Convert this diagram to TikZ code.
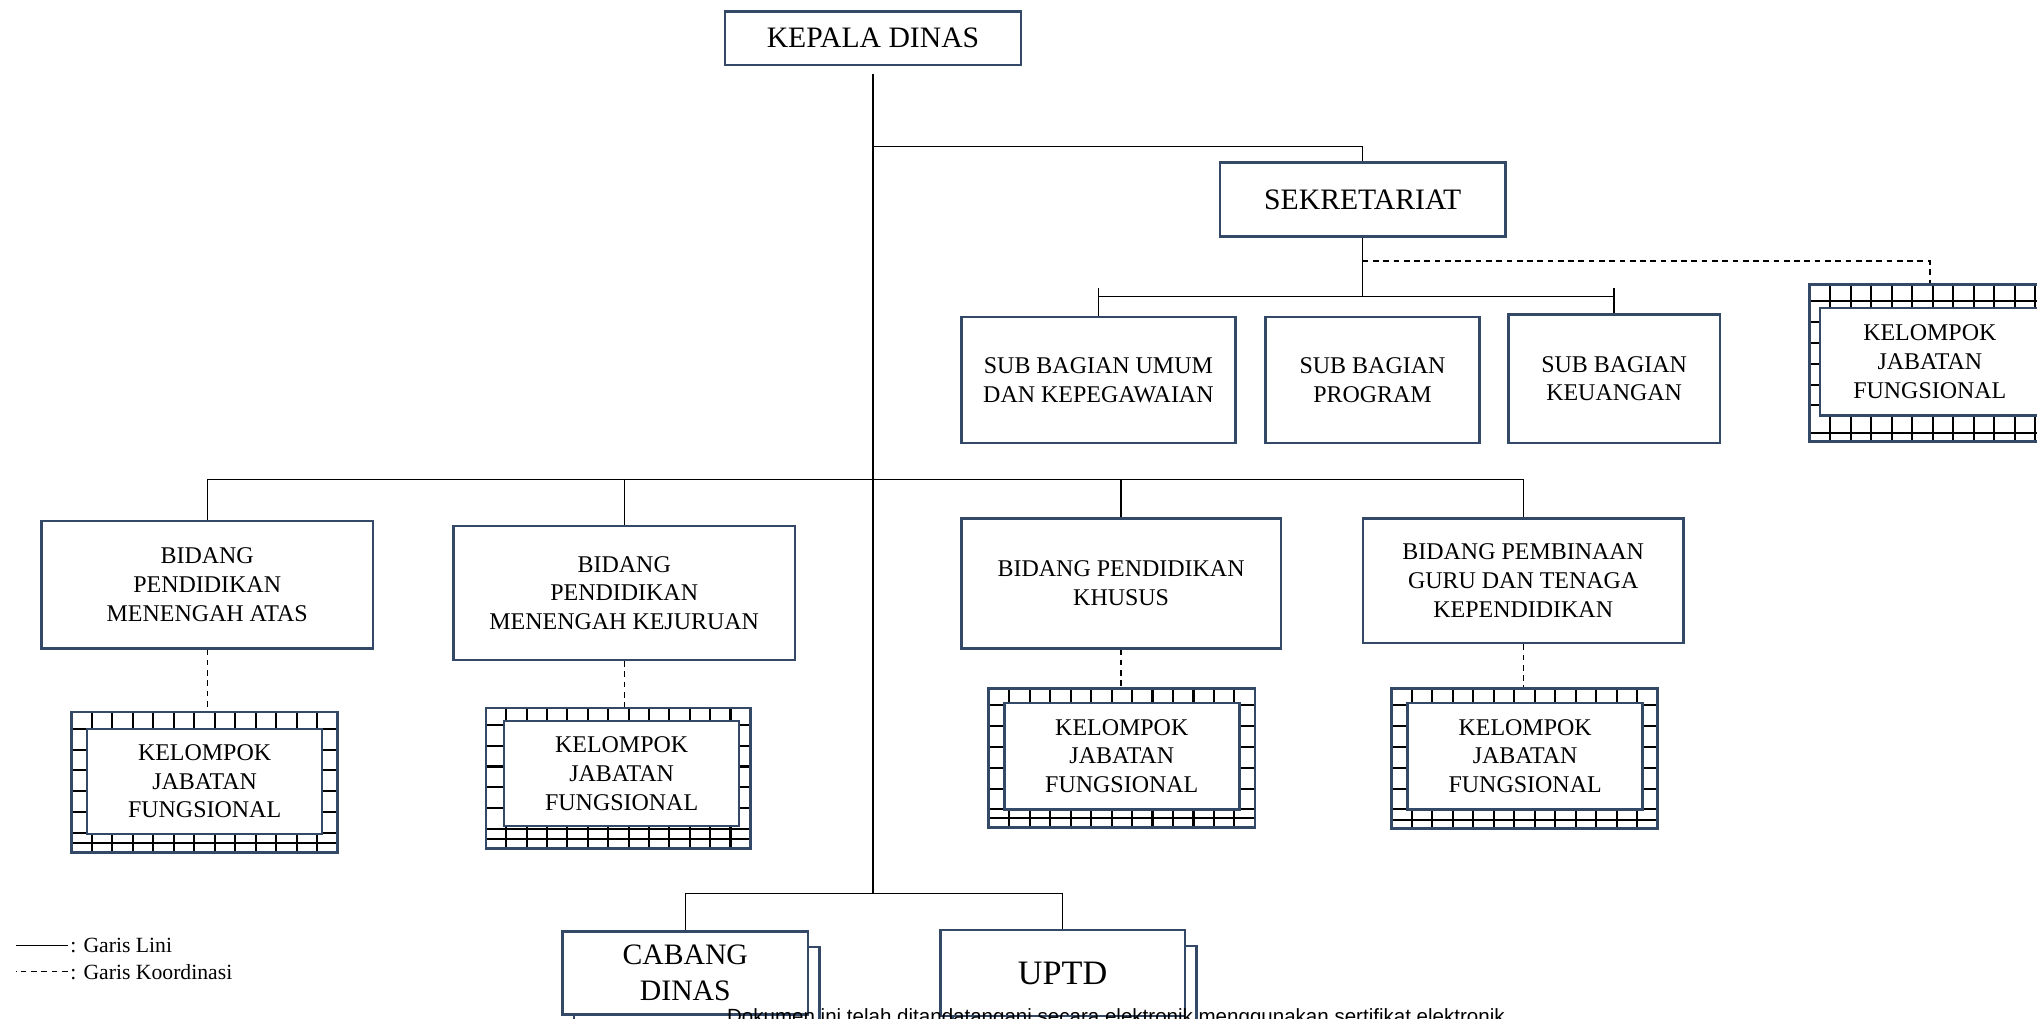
\documentclass[tikz,border=0pt]{standalone}
\usepackage{fontspec}
\setmainfont{Liberation Serif}
\newfontfamily\wmfont{Liberation Sans}
\usetikzlibrary{calc,shadows}
\definecolor{garisbiru}{RGB}{52,72,104}
\tikzset{
  kotak/.style={draw=garisbiru, line width=1.1pt, fill=white, align=center,
    font=\fontsize{10.5}{12.6}\selectfont},
  kepala/.style={kotak, font=\fontsize{13}{15.6}\selectfont},
  kisi/.style={black, line width=0.9pt},
  kjfluar/.style={draw=garisbiru, line width=1.2pt, fill=white,
    minimum width=4.1cm, minimum height=2.16cm,
    path picture={
      \foreach \i in {1,...,12}
        \draw[kisi] ($(path picture bounding box.north west)!\i/13!(path picture bounding box.north east)$) -- ++(0,-3cm);
      \foreach \j in {0,...,5}
        \draw[kisi] ([yshift=-0.26cm-\j*0.32cm]path picture bounding box.north west) -- ++(5cm,0);
      \draw[kisi] ([yshift=0.14cm]path picture bounding box.south west) -- ++(5cm,0);
    }},
  kjfdalam/.style={kotak, minimum width=3.62cm, minimum height=1.62cm},
  tumpuk/.style={kepala, copy shadow={shadow xshift=0.18cm, shadow yshift=-0.24cm,
    draw=garisbiru, line width=1.1pt, fill=white}},
  garis/.style={black, line width=0.6pt},
  koord/.style={garis, dash pattern=on 2.5pt off 2pt},
  legenda/.style={font=\fontsize{9.5}{11}\selectfont, inner sep=1pt},
}

\begin{document}
\begin{tikzpicture}[x=0.02cm, y=-0.02cm]
  \useasboundingbox (0,0) rectangle (1568,784);
  \node[kepala, minimum width=4.56cm, minimum height=0.82cm] (kd) at (672,29.5) {KEPALA DINAS};
  \node[kepala, minimum width=4.4cm, minimum height=1.14cm] (sek) at (1049,153.5) {SEKRETARIAT};
  \node[kotak, minimum width=4.22cm, minimum height=1.94cm] (sbu) at (845.5,292.5) {SUB BAGIAN UMUM\\DAN KEPEGAWAIAN};
  \node[kotak, minimum width=3.3cm, minimum height=1.94cm] (sbp) at (1056.5,292.5) {SUB BAGIAN\\PROGRAM};
  \node[kotak, minimum width=3.26cm, minimum height=1.98cm] (sbk) at (1242.5,291.5) {SUB BAGIAN\\KEUANGAN};
  \node[kjfluar, minimum height=2.42cm] (kjf5) at (1495.5,279.5) {};
  \node[kjfdalam, minimum width=3.38cm, minimum height=1.66cm] (kjf5t) at (1485.5,278.5) {KELOMPOK\\JABATAN\\FUNGSIONAL};

  \node[kotak, minimum width=5.1cm, minimum height=1.96cm] (bpma) at (159.5,450) {BIDANG\\PENDIDIKAN\\MENENGAH ATAS};
  \node[kotak, minimum width=5.26cm, minimum height=2.06cm] (bpmk) at (480.5,456.5) {BIDANG\\PENDIDIKAN\\MENENGAH KEJURUAN};
  \node[kotak, minimum width=4.92cm, minimum height=2cm] (bpk) at (863,449) {BIDANG PENDIDIKAN\\KHUSUS};
  \node[kotak, minimum width=4.94cm, minimum height=1.92cm] (bpgtk) at (1172.5,447) {BIDANG PEMBINAAN\\GURU DAN TENAGA\\KEPENDIDIKAN};

  \node[kjfluar] (kjf1) at (157.5,602) {};
  \node[kjfdalam] (kjf1t) at (157.5,601.5) {KELOMPOK\\JABATAN\\FUNGSIONAL};
  \node[kjfluar, minimum width=4.08cm] (kjf2) at (476,599) {};
  \node[kjfdalam] (kjf2t) at (478.5,595.5) {KELOMPOK\\JABATAN\\FUNGSIONAL};
  \node[kjfluar, minimum height=2.14cm] (kjf3) at (863.5,583.5) {};
  \node[kjfdalam, minimum height=1.64cm] (kjf3t) at (863.5,582) {KELOMPOK\\JABATAN\\FUNGSIONAL};
  \node[kjfluar] (kjf4) at (1173.5,584) {};
  \node[kjfdalam, minimum height=1.64cm] (kjf4t) at (1174,582) {KELOMPOK\\JABATAN\\FUNGSIONAL};

  \node[tumpuk, minimum width=3.78cm, minimum height=1.28cm] (cd) at (527.5,749) {CABANG\\DINAS};
  \node[tumpuk, minimum width=3.76cm, minimum height=1.32cm, font=\fontsize{15}{18}\selectfont] (uptd) at (818,749) {UPTD};

  \coordinate (t1) at (672,113);
  \coordinate (t2) at (672,369);
  \coordinate (t3) at (672,688);
  \coordinate (s0) at (1048,222);
  \coordinate (s1) at (1048,228);
  \coordinate (s2) at (1048,201);
  \draw[garis] ([yshift=-0.12cm]kd.south) -- (t3);
  \draw[garis] (t1) -| (sek.north);
  \draw[garis] (sek.south) -- (sek.south |- s1);
  \draw[garis] (sbu.north |- s0) -- (sbu.north);
  \draw[garis] (sbk.north |- s0) -- (sbk.north);
  \draw[garis] (sbu.north |- s1) -- (sbk.north |- s1);
  \draw[koord] (sek.south |- s2) -| (kjf5t.north |- kjf5.north);
  \draw[garis] (bpma.north) -- (bpma.north |- t2) -- (bpgtk.north |- t2) -- (bpgtk.north);
  \draw[garis] (bpmk.north) -- (bpmk.north |- t2);
  \draw[garis] (bpk.north) -- (bpk.north |- t2);
  \foreach \b/\k in {bpma/kjf1, bpmk/kjf2, bpk/kjf3, bpgtk/kjf4}
    \draw[koord] (\b.south) -- (\b.south |- \k.north);
  \draw[garis] (cd.north) -- (cd.north |- t3) -- (uptd.north |- t3) -- (uptd.north);

  \node[legenda, anchor=west] (lg1) at (52,728) {: Garis Lini};
  \node[legenda, anchor=west] (lg2) at (52,748) {: Garis Koordinasi};
  \draw[garis] (lg1.west) -- ++(-40,0);
  \draw[koord] (lg2.west) -- ++(-40,0);
  \node[font=\wmfont\fontsize{9}{11}\selectfont, anchor=base] (ttd) at (859,788) {Dokumen ini telah ditandatangani secara elektronik menggunakan sertifikat elektronik};
\end{tikzpicture}
\end{document}
